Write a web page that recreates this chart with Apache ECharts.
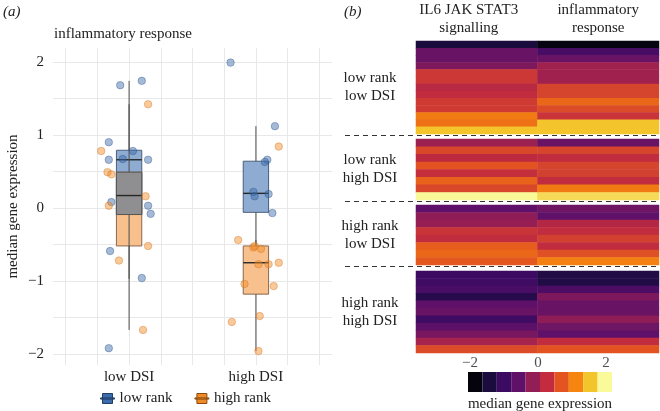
<!DOCTYPE html>
<html><head><meta charset="utf-8">
<script src="https://cdn.jsdelivr.net/npm/echarts@6/dist/echarts.min.js"></script>
<style>html,body{margin:0;padding:0;background:#fff}#c{width:660px;height:411px}</style>
</head><body><div id="c"></div><script>
// ---------------- data ----------------
const dsiCategories = ['low DSI', 'high DSI'];
const rankGroups = ['low rank', 'high rank'];
const yGridValues = [-2, -1.5, -1, -0.5, 0, 0.5, 1, 1.5, 2];
const yTickLabels = [-2, -1, 0, 1, 2];
const xGridValues = [0.5, 0.75, 1, 1.25, 1.5, 1.75, 2, 2.25, 2.5];
const xTickValues = [1, 2];

// box stats per DSI category: [lower whisker, Q1, median, Q3, upper whisker]
const lowRankBox = [[-0.97, -0.09, 0.66, 0.79, 1.74], [-0.52, -0.06, 0.20, 0.64, 1.12]];
const highRankBox = [[-1.67, -0.52, 0.17, 0.49, 1.42], [-1.96, -1.18, -0.75, -0.52, -0.44]];

// jittered points: [x position, median gene expression]
const lowRankPoints = [
  [0.93, 1.68], [1.10, 1.74], [0.84, 0.90], [1.03, 0.78], [0.84, 0.66], [0.95, 0.67], [1.15, 0.66],
  [0.86, 0.08], [1.15, 0.03], [1.17, -0.08], [0.85, -0.59], [1.10, -0.96], [0.84, -1.92],
  [1.80, 1.99], [2.15, 1.12], [2.09, 0.66], [2.07, 0.63], [1.98, 0.22], [1.99, 0.16], [2.10, 0.19], [2.13, -0.07]
];
const highRankPoints = [
  [1.15, 1.42], [0.78, 0.78], [0.83, 0.49], [0.86, 0.46], [1.13, 0.16], [0.84, 0.03], [1.15, -0.52], [0.92, -0.72], [1.11, -1.67],
  [2.18, 0.84], [1.86, -0.44], [1.98, -0.54], [2.04, -0.56], [1.99, -0.52], [2.02, -0.77], [2.10, -0.77], [2.18, -0.75],
  [1.91, -1.04], [2.14, -1.07], [2.03, -1.48], [1.81, -1.56], [2.02, -1.96]
];

// heatmap (panel b)
const heatColumns = ['IL6 JAK STAT3\nsignalling', 'inflammatory\nresponse'];
const heatGroups = ['low rank\nlow DSI', 'low rank\nhigh DSI', 'high rank\nlow DSI', 'high rank\nhigh DSI'];
const g1Signalling = [-1.51, -0.56, -0.56, -0.39, 0.34, 0.34, 0.12, 0.21, 0.38, 0.38, 0.98, 0.90, 1.50];
const g1Inflammatory = [-1.90, -0.95, -0.56, -0.09, -0.09, -0.09, 0.47, 0.47, 0.81, 0.55, 0.30, 1.50, 1.50];
const g2Signalling = [-0.13, 0.51, 0.17, 0.64, 0.25, 0.77, 0.51, 1.93];
const g2Inflammatory = [-0.56, 0.47, 0.21, 0.47, 0.43, 0.21, 0.98, 1.67];
const g3Signalling = [-0.65, -0.26, -0.18, 0.30, 0.21, 0.73, 0.81, 0.68];
const g3Inflammatory = [-0.52, -0.65, 0.08, 0.21, 0.43, 0.21, 0.60, 1.03];
const g4Signalling = [-1.08, -1.04, -0.91, -1.34, -0.65, -0.56, -1.04, -0.69, -0.44, -0.05, 0.55];
const g4Inflammatory = [-1.42, -1.42, -0.87, -0.39, -0.56, -0.56, -0.26, -0.52, -0.65, 0.21, 0.64];

// colour scale
const palette = ['#05030c', '#1b0c3e', '#3d0a62', '#5f1169', '#931d55', '#c22c3e', '#e35421', '#f6850f', '#f3c52d', '#fafa9a'];
const colorbarTicks = [-2, 0, 2];
const colorRange = [-2.06, 2.18];
const colorStopRange = [-1.94, 1.94];

// ---------------- layout ----------------
const FONT = '"Liberation Serif", "DejaVu Serif", serif';
const TXT = '#222';
const panelA = {left: 53, top: 48, width: 279, height: 317};
const heatLeft = 416, heatWidth = 243;
const heatGrids = [
  {top: 41, height: 93},
  {top: 139, height: 61},
  {top: 205, height: 60},
  {top: 271, height: 82}
];
const colorbarGrid = {left: 468, top: 372, width: 144, height: 20};
const BOX_HALF = 0.1;
const WHISKER = '#4d4d4d';

const minus = v => String(v).replace('-', '\u2212');

const chart = echarts.init(document.getElementById('c'), null, {renderer: 'canvas'});

function rectBetween(api, x, a, b, style) {
  const pTop = api.coord([x, b]);
  const pBot = api.coord([x, a]);
  const half = api.size([BOX_HALF, 0])[0];
  return {type: 'rect', shape: {x: pTop[0] - half, y: pTop[1], width: half * 2, height: pBot[1] - pTop[1]}, style: style};
}
function medianLine(api, x, m) {
  const p = api.coord([x, m]);
  const half = api.size([BOX_HALF, 0])[0];
  return {type: 'line', shape: {x1: p[0] - half, y1: p[1], x2: p[0] + half, y2: p[1]}, style: {stroke: '#262626', lineWidth: 1.4}};
}

// box renderer; `other` = box stats of the series drawn underneath (for the overlap tint)
function boxRender(stats, fill, stroke, other) {
  return function (params, api) {
    const x = api.value(0);
    const s = stats[params.dataIndex];
    const children = [rectBetween(api, x, s[1], s[3], {fill: fill, stroke: stroke, lineWidth: 1})];
    if (other) {
      const o = other[params.dataIndex];
      const lo = Math.max(s[1], o[1]), hi = Math.min(s[3], o[3]);
      if (hi > lo) children.push(rectBetween(api, x, lo, hi, {fill: '#8f8f91', stroke: '#555', lineWidth: 1}));
      if (o[2] > s[1] && o[2] < s[3]) children.push(medianLine(api, x, o[2]));
    }
    children.push(medianLine(api, x, s[2]));
    return {type: 'group', children: children};
  };
}
function whiskerRender(params, api) {
  const x = api.value(0);
  const pHi = api.coord([x, api.value(5)]), pQ3 = api.coord([x, api.value(4)]);
  const pQ1 = api.coord([x, api.value(2)]), pLo = api.coord([x, api.value(1)]);
  return {type: 'group', children: [
    {type: 'line', shape: {x1: pHi[0], y1: pHi[1], x2: pQ3[0], y2: pQ3[1]}, style: {stroke: WHISKER, lineWidth: 1}},
    {type: 'line', shape: {x1: pQ1[0], y1: pQ1[1], x2: pLo[0], y2: pLo[1]}, style: {stroke: WHISKER, lineWidth: 1}}
  ]};
}

const grids = [];
const xAxes = [];
const yAxes = [];
const series = [];

// panel (a)
grids.push({left: panelA.left, top: panelA.top, width: panelA.width, height: panelA.height});
xAxes.push({
  gridIndex: 0, type: 'value', min: 0.4, max: 2.6,
  axisLine: {show: false},
  axisTick: {show: false, customValues: xGridValues},
  axisLabel: {customValues: xTickValues, formatter: v => dsiCategories[Math.round(v) - 1], margin: 5,
    fontFamily: FONT, fontSize: 15, color: TXT},
  splitLine: {show: true, lineStyle: {color: '#e8e8e8', width: 1}}
});
yAxes.push({
  gridIndex: 0, type: 'value', min: -2.15, max: 2.19,
  axisLine: {show: false},
  axisTick: {show: false, customValues: yGridValues},
  axisLabel: {customValues: yTickLabels, formatter: minus, margin: 9, fontFamily: FONT, fontSize: 15, color: TXT},
  splitLine: {show: true, lineStyle: {color: '#e8e8e8', width: 1}},
  name: 'median gene expression', nameLocation: 'middle', nameGap: 32, nameRotate: 90,
  nameTextStyle: {fontFamily: FONT, fontSize: 15, color: TXT}
});
series.push({
  type: 'custom', name: rankGroups[0], xAxisIndex: 0, yAxisIndex: 0, z: 2,
  renderItem: boxRender(lowRankBox, '#8eabd2', '#4a5f7c', null),
  encode: {x: 0, y: [1, 2, 3, 4, 5]},
  data: lowRankBox.map((s, i) => [i + 1].concat(s))
});
series.push({
  type: 'custom', name: rankGroups[1], xAxisIndex: 0, yAxisIndex: 0, z: 3,
  renderItem: boxRender(highRankBox, '#f8c08c', '#8a6a50', lowRankBox),
  encode: {x: 0, y: [1, 2, 3, 4, 5]},
  data: highRankBox.map((s, i) => [i + 1].concat(s))
});
series.push({
  type: 'custom', xAxisIndex: 0, yAxisIndex: 0, z: 3, silent: true,
  renderItem: whiskerRender,
  encode: {x: 0, y: [1, 2, 3, 4, 5]},
  data: lowRankBox.map((s, i) => [i + 1].concat(s)).concat(highRankBox.map((s, i) => [i + 1].concat(s)))
});
series.push({
  type: 'scatter', name: rankGroups[0], xAxisIndex: 0, yAxisIndex: 0, z: 4, symbolSize: 7.5,
  itemStyle: {color: 'rgba(58,105,168,0.58)', borderColor: 'rgba(40,80,135,0.6)', borderWidth: 0.8},
  data: lowRankPoints
});
series.push({
  type: 'scatter', name: rankGroups[1], xAxisIndex: 0, yAxisIndex: 0, z: 4, symbolSize: 7.5,
  itemStyle: {color: 'rgba(242,138,36,0.58)', borderColor: 'rgba(205,110,25,0.6)', borderWidth: 0.8},
  data: highRankPoints
});

// panel (b) heatmap
const heatData = [
  [g1Signalling, g1Inflammatory],
  [g2Signalling, g2Inflammatory],
  [g3Signalling, g3Inflammatory],
  [g4Signalling, g4Inflammatory]
];
const heatSeriesIdx = [];
heatGrids.forEach((g, gi) => {
  const gridIndex = grids.length;
  grids.push({left: heatLeft, top: g.top, width: heatWidth, height: g.height});
  const xi = xAxes.length;
  xAxes.push({
    gridIndex: gridIndex, type: 'category', data: heatColumns, position: 'top',
    axisLine: {show: false}, axisTick: {show: false}, splitLine: {show: false},
    axisLabel: {show: gi === 0, interval: 0, margin: 4, color: TXT,
      formatter: (v, i) => (i === 0 ? '{a|' : '{b|') + v + '}',
      rich: {
        a: {fontFamily: FONT, fontSize: 15, color: TXT, lineHeight: 18, padding: [0, 16, 0, 0]},
        b: {fontFamily: FONT, fontSize: 15, color: TXT, lineHeight: 18}
      }}
  });
  const yi = yAxes.length;
  const rows = heatData[gi][0].map((_, r) => r);
  yAxes.push({gridIndex: gridIndex, type: 'category', data: rows, inverse: true, show: false});
  const d = [];
  heatData[gi].forEach((col, ci) => col.forEach((v, r) => d.push([ci, r, v])));
  heatSeriesIdx.push(series.length);
  series.push({type: 'heatmap', xAxisIndex: xi, yAxisIndex: yi, data: d, itemStyle: {borderWidth: 0}, emphasis: {disabled: true}});
});

// colour bar legend
const cbGrid = grids.length;
grids.push(colorbarGrid);
const cbX = xAxes.length;
xAxes.push({gridIndex: cbGrid, type: 'category', data: palette.map((_, i) => i), show: false, boundaryGap: true});
const cbX2 = xAxes.length;
xAxes.push({gridIndex: cbGrid, type: 'value', min: colorRange[0], max: colorRange[1], show: false});
const cbY = yAxes.length;
yAxes.push({gridIndex: cbGrid, type: 'value', min: 0, max: 1, show: false});
series.push({
  type: 'bar', xAxisIndex: cbX, yAxisIndex: cbY, barWidth: '100%', barCategoryGap: 0, silent: true,
  data: palette.map(c => ({value: 1, itemStyle: {color: c}}))
});
series.push({
  type: 'scatter', xAxisIndex: cbX2, yAxisIndex: cbY, symbolSize: 1, silent: true,
  itemStyle: {color: 'rgba(0,0,0,0)'},
  label: {show: true, position: 'top', distance: 1, formatter: p => minus(p.value[0]),
    fontFamily: FONT, fontSize: 15, color: TXT},
  data: colorbarTicks.map(v => [v, 1])
});

// texts & separators
const graphics = [];
heatGroups.forEach((name, gi) => {
  const g = heatGrids[gi];
  graphics.push({type: 'text', x: 370, y: g.top + g.height / 2, style: {
    text: name, fill: TXT, font: '15px ' + FONT, textAlign: 'center', textVerticalAlign: 'middle', lineHeight: 18}});
  if (gi < heatGroups.length - 1) {
    const yy = g.top + g.height + 1.5;
    graphics.push({type: 'line', shape: {x1: 345, y1: yy, x2: 660, y2: yy},
      style: {stroke: '#333', lineWidth: 1, lineDash: [5, 4]}});
  }
});
graphics.push({type: 'text', x: 540, y: 404, style: {text: 'median gene expression', fill: TXT,
  font: '15px ' + FONT, textAlign: 'center', textVerticalAlign: 'middle'}});
graphics.push({type: 'text', x: 3, y: 12, style: {text: '(a)', fill: TXT, font: 'italic 15px ' + FONT, textVerticalAlign: 'middle'}});
graphics.push({type: 'text', x: 344, y: 12, style: {text: '(b)', fill: TXT, font: 'italic 15px ' + FONT, textVerticalAlign: 'middle'}});
graphics.push({type: 'text', x: 54, y: 34, style: {text: 'inflammatory response', fill: TXT, font: '15px ' + FONT, textVerticalAlign: 'middle'}});

const boxIcon = 'path://M2,0 H12 V10 H2 Z M0,4.4 H14 V5.6 H0 Z';

chart.setOption({
  animation: false,
  backgroundColor: '#fff',
  grid: grids,
  xAxis: xAxes,
  yAxis: yAxes,
  visualMap: {type: 'continuous', show: false, min: colorStopRange[0], max: colorStopRange[1],
    seriesIndex: heatSeriesIdx, inRange: {color: palette}},
  legend: {
    left: 95, top: 386, itemWidth: 14, itemHeight: 12, itemGap: 22, selectedMode: false,
    textStyle: {fontFamily: FONT, fontSize: 15, color: TXT},
    data: [
      {name: rankGroups[0], icon: boxIcon, itemStyle: {color: '#3c6cab', borderColor: '#1f3d66', borderWidth: 1}},
      {name: rankGroups[1], icon: boxIcon, itemStyle: {color: '#f08a24', borderColor: '#8a4a10', borderWidth: 1}}
    ]
  },
  graphic: graphics,
  series: series
});
</script></body></html>
